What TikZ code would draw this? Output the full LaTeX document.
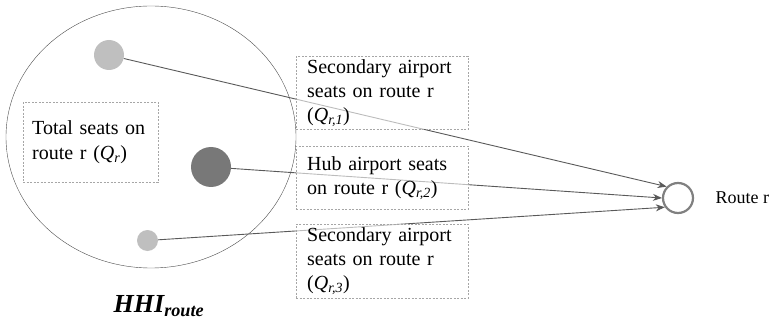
\documentclass[tikz,border=0pt]{standalone}
\usepackage{fontspec}
\setmainfont{Liberation Serif}
\usetikzlibrary{arrows.meta,positioning}

\tikzset{
    airport/.style={circle, inner sep=0pt},
    seatbox/.style={draw=black!35, dashed, dash pattern=on 2pt off 1.5pt, fill=white, fill opacity=0.6, text opacity=1,
        align=left, anchor=north west, inner xsep=11pt, inner ysep=3pt, font=\fontsize{20}{24}\selectfont},
    link/.style={draw=black!65, line width=0.9pt, -{Stealth[length=9pt,width=7pt]}}
}

\begin{document}
\begin{tikzpicture}[x=1pt,y=-1pt]
    \useasboundingbox (0,0) rectangle (777,326);
    %Route circle
    \draw[black!70] (151,137) ellipse [x radius=145pt, y radius=131pt];
    %Airports
    \node[airport, fill=black!25, minimum size=30pt] (sec1) at (109,55) {};
    \node[airport, fill=black!53, minimum size=40pt] (hub) at (211,167) {};
    \node[airport, fill=black!25, minimum size=21pt] (sec3) at (147.5,240.5) {};
    %Route
    \node[airport, draw=black!50, line width=2.2pt, minimum size=30pt] (route) at (678,198) {};
    \node[right=18pt of route, font=\fontsize{18}{22}\selectfont] (routelbl) {Route r};
    %Links
    \draw[link] (sec1) -- (route.135);
    \draw[link] (hub) -- (route.180);
    \draw[link] (sec3) -- (route.215);
    %Boxes
    \node[seatbox, inner xsep=9pt, text width=117pt, minimum height=80pt, font=\fontsize{20}{25}\selectfont] (total) at (23,102)
        {Total seats on\\route r (\textit{Q}\textsubscript{\textit{r}})};
    \node[seatbox, text width=150pt, minimum height=73pt] (box1) at (296,56)
        {Secondary airport\\seats on route r\\(\textit{Q}\textsubscript{\textit{r,1}})};
    \node[seatbox, text width=150pt, minimum height=63pt] (box2) at (296,146)
        {Hub airport seats\\on route r (\textit{Q}\textsubscript{\textit{r,2}})};
    \node[seatbox, text width=150pt, minimum height=74pt] (box3) at (296,224)
        {Secondary airport\\seats on route r\\(\textit{Q}\textsubscript{\textit{r,3}})};
    %HHI
    \node[font=\fontsize{26}{30}\selectfont\bfseries\itshape] (hhi) at (159,306)
        {HHI\textsubscript{route}};
\end{tikzpicture}
\end{document}
